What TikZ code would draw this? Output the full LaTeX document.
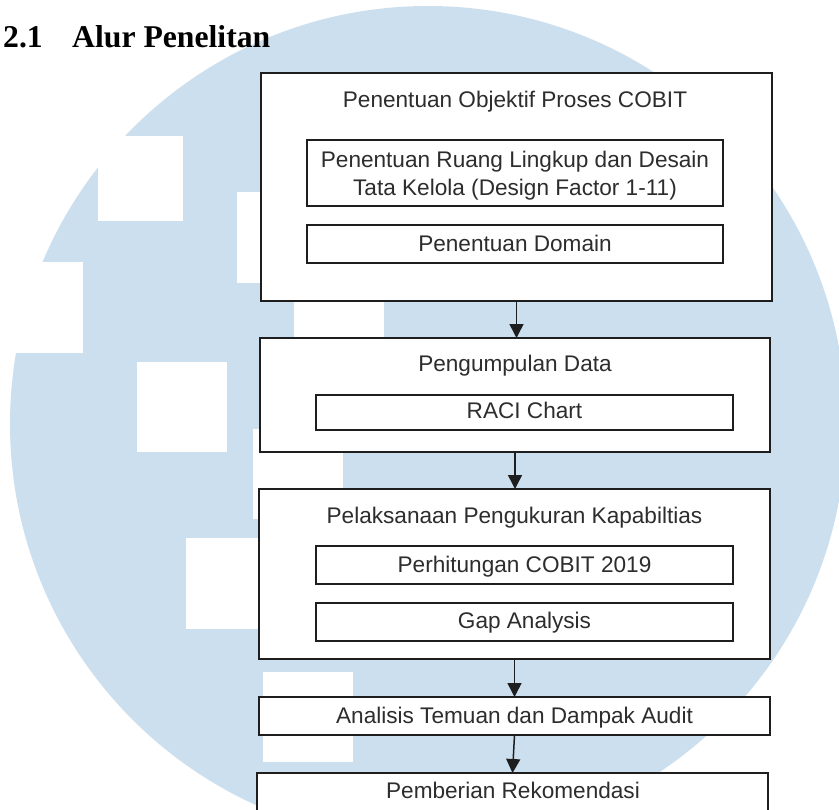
\documentclass[tikz,border=0pt]{standalone}
\usepackage{fontspec}
\setmainfont{Liberation Sans}
\newfontfamily\titlefont{Liberation Serif}
\usetikzlibrary{arrows.meta}
\definecolor{wm}{RGB}{204,223,238}
\definecolor{ln}{RGB}{30,30,30}
\definecolor{tx}{RGB}{45,45,45}
\begin{document}
\begin{tikzpicture}[x=1bp,y=-1bp,
  box/.style={draw=ln, line width=1.6bp, fill=white, inner sep=0pt, outer sep=0pt},
  lbl/.style={anchor=base, inner sep=0pt, outer sep=0pt, text=tx, font=\fontsize{22.6bp}{28bp}\selectfont},
  arr/.style={draw=ln, line width=1.5bp, -{Triangle[length=14bp,width=14bp]}},
  sq/.style={fill=white, draw=none},
  ttl/.style={anchor=base west, inner sep=0pt, font=\titlefont\bfseries\fontsize{31.7bp}{36bp}\selectfont}]
\useasboundingbox (0,0) rectangle (839,810);
\clip (0,0) rectangle (839,810);
\fill[white] (0,0) rectangle (839,810);
% watermark
\fill[wm] (428,424) circle[radius=418bp];
\fill[sq] (98,136) rectangle (183,221);
\fill[sq] (0,262) rectangle (83,353);
\fill[sq] (237,192) rectangle (327,283);
\fill[sq] (294,262) rectangle (384,352);
\fill[sq] (137,362) rectangle (227,452);
\fill[sq] (253,429) rectangle (343,519);
\fill[sq] (186,538) rectangle (276,629);
\fill[sq] (263,672) rectangle (353,762);
% title
\node[ttl] (tnum) at (3,48) {2.1};
\node[ttl] (ttext) at (72,48) {Alur Penelitan};
% boxes
\node[box, minimum width=511bp, minimum height=228bp] (b1) at (516.5,187) {};
\node[box, minimum width=416bp, minimum height=66bp] (b1a) at (515,173) {};
\node[box, minimum width=416bp, minimum height=38bp] (b1b) at (515,244) {};
\node[box, minimum width=510bp, minimum height=114bp] (b2) at (515,395) {};
\node[box, minimum width=417bp, minimum height=35bp] (b2a) at (524.5,412.5) {};
\node[box, minimum width=511bp, minimum height=170bp] (b3) at (514.5,574) {};
\node[box, minimum width=417bp, minimum height=38bp] (b3a) at (524.5,565) {};
\node[box, minimum width=417bp, minimum height=38bp] (b3b) at (524.5,622) {};
\node[box, minimum width=511bp, minimum height=38bp] (b4) at (514.5,716) {};
\node[box, minimum width=511bp, minimum height=38bp] (b5) at (512.5,792) {};
% labels
\node[lbl] (l1) at (515,107) {Penentuan Objektif Proses COBIT};
\node[lbl] (l1a1) at (515,167) {Penentuan Ruang Lingkup dan Desain};
\node[lbl] (l1a2) at (515,195) {Tata Kelola (Design Factor 1-11)};
\node[lbl] (l1b) at (515,251) {Penentuan Domain};
\node[lbl] (l2) at (515,371) {Pengumpulan Data};
\node[lbl] (l2a) at (524.5,418) {RACI Chart};
\node[lbl] (l3) at (514.5,523) {Pelaksanaan Pengukuran Kapabiltias};
\node[lbl] (l3a) at (524.5,572) {Perhitungan COBIT 2019};
\node[lbl] (l3b) at (524.5,628) {Gap Analysis};
\node[lbl] (l4) at (514.5,723) {Analisis Temuan dan Dampak Audit};
\node[lbl] (l5) at (513,798) {Pemberian Rekomendasi};
% arrows
\draw[arr] (b1.south) -- (b1.south |- b2.north);
\draw[arr] (b2.south) -- (b2.south |- b3.north);
\draw[arr] (b3.south) -- (b3.south |- b4.north);
\draw[arr] (b4.south) -- (b5.north);
\end{tikzpicture}
\end{document}
